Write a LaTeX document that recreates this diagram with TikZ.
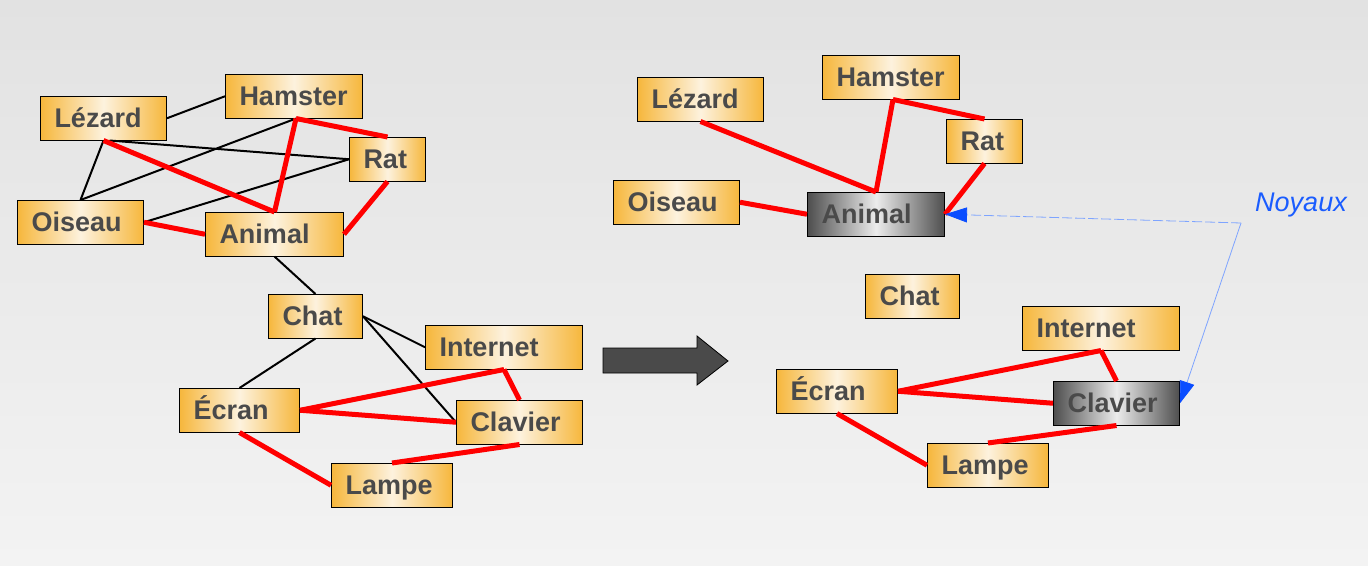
\documentclass[tikz,border=0pt]{standalone}
\usepackage{fontspec}
\setmainfont{Liberation Sans}
\usetikzlibrary{calc,arrows.meta}
\definecolor{bgtop}{HTML}{E2E2E2}
\definecolor{bgbot}{HTML}{F3F3F3}
\definecolor{orgE}{HTML}{F6B73C}
\definecolor{orgC}{HTML}{FDF2DE}
\definecolor{gryE}{HTML}{4E4E4E}
\definecolor{gryC}{HTML}{ECECEC}
\definecolor{txt}{HTML}{4A4A4A}
\definecolor{noyblue}{HTML}{1A5CFF}
\definecolor{noyline}{HTML}{7EA4FF}
\definecolor{tipblue}{HTML}{0A4DFF}
\definecolor{arrowfill}{HTML}{4A4A4A}
\tikzset{
  box/.style={draw=black, line width=1pt, anchor=north west, minimum height=43.5pt,
    inner ysep=0pt, inner xsep=14pt, align=left, text=txt,
    text height=19.3pt, text depth=0pt,
    font=\bfseries\fontsize{27}{30}\selectfont,
    left color=orgE, right color=orgE, middle color=orgC},
  kbox/.style={box, left color=gryE, right color=gryE, middle color=gryC},
  redline/.style={draw=red, line width=5pt},
  blkline/.style={draw=black, line width=2pt},
  noylink/.style={draw=noyline, line width=0.8pt, -{Triangle[length=22pt,width=15pt,fill=tipblue,color=tipblue]}},
  noytext/.style={text=noyblue, font=\itshape\fontsize{27}{30}\selectfont, inner sep=0pt},
  bigarrow/.style={fill=arrowfill, draw=black, line width=0.8pt}
}
\begin{document}
\begin{tikzpicture}[x=1pt,y=-1pt]
\shade[top color=bgtop,bottom color=bgbot] (0,0) rectangle (1368,565);
\useasboundingbox (0,0) rectangle (1368,565);

% ---------- left graph ----------
\node[box, text width=98pt]  (lezA) at (40,96)   {Lézard};
\node[box, text width=109pt] (hamA) at (225,74)  {Hamster};
\node[box, text width=48pt]  (ratA) at (349,137) {Rat};
\node[box, text width=98pt]  (oisA) at (17,200)  {Oiseau};
\node[box, text width=110pt] (aniA) at (205,212) {Animal};
\node[box, text width=66pt]  (chaA) at (268,294) {Chat};
\node[box, text width=129pt] (intA) at (425,325) {Internet};
\node[box, text width=92pt]  (ecrA) at (179,388) {Écran};
\node[box, text width=98pt]  (claA) at (456,400) {Clavier};
\node[box, text width=93pt]  (lamA) at (331,463) {Lampe};

\draw[blkline] (lezA.east) -- (hamA.west);
\draw[blkline] (lezA.south) -- (oisA.north);
\draw[blkline] ($(lezA.south)+(6,0)$) -- (ratA.west);
\draw[blkline] (oisA.north) -- ($(hamA.south)+(2,0)$);
\draw[blkline] (oisA.east) -- (ratA.west);
\draw[blkline] (aniA.south) -- (chaA.north);
\draw[blkline] (chaA.south) -- (ecrA.north);
\draw[blkline] (chaA.east) -- (intA.west);
\draw[blkline] (chaA.east) -- (claA.west);

\draw[redline] (lezA.south) -- (aniA.north);
\draw[redline] ($(hamA.south)+(2,0)$) -- (aniA.north);
\draw[redline] ($(hamA.south)+(2,0)$) -- (ratA.north);
\draw[redline] (ratA.south) -- (aniA.east);
\draw[redline] (oisA.east) -- (aniA.west);
\draw[redline] (ecrA.east) -- (intA.south);
\draw[redline] (intA.south) -- (claA.north);
\draw[redline] (ecrA.east) -- (claA.west);
\draw[redline] (ecrA.south) -- (lamA.west);
\draw[redline] (lamA.north) -- (claA.south);

% ---------- big arrow ----------
\draw[bigarrow] (603,348) -- (697,348) -- (697,336) -- (728,361) -- (697,385) -- (697,373) -- (603,373) -- cycle;

% ---------- right graph ----------
\node[box, text width=98pt]   (lezB) at (637,77)   {Lézard};
\node[box, text width=109pt]  (hamB) at (822,55)   {Hamster};
\node[box, text width=48pt]   (ratB) at (946,119)  {Rat};
\node[box, text width=98pt]   (oisB) at (613,180)  {Oiseau};
\node[kbox, text width=109pt] (aniB) at (807,192)  {Animal};
\node[box, text width=66pt]   (chaB) at (865,274)  {Chat};
\node[box, text width=129pt]  (intB) at (1022,306) {Internet};
\node[box, text width=93pt]   (ecrB) at (776,369)  {Écran};
\node[kbox, text width=98pt]  (claB) at (1053,381) {Clavier};
\node[box, text width=93pt]   (lamB) at (927,443)  {Lampe};

\draw[redline] (lezB.south) -- (aniB.north);
\draw[redline] ($(hamB.south)+(2,0)$) -- (aniB.north);
\draw[redline] ($(hamB.south)+(2,0)$) -- (ratB.north);
\draw[redline] (ratB.south) -- (aniB.east);
\draw[redline] (oisB.east) -- (aniB.west);
\draw[redline] (ecrB.east) -- (intB.south);
\draw[redline] (intB.south) -- (claB.north);
\draw[redline] (ecrB.east) -- (claB.west);
\draw[redline] (ecrB.south) -- (lamB.west);
\draw[redline] (lamB.north) -- (claB.south);

% ---------- Noyaux ----------
\node[noytext] (noy) at (1301,205) {Noyaux};
\coordinate (nk) at (1241,223);
\draw[noylink, dash pattern=on 10pt off 3pt] (nk) -- (aniB.east);
\draw[noylink] (nk) -- (claB.east);
\end{tikzpicture}
\end{document}
